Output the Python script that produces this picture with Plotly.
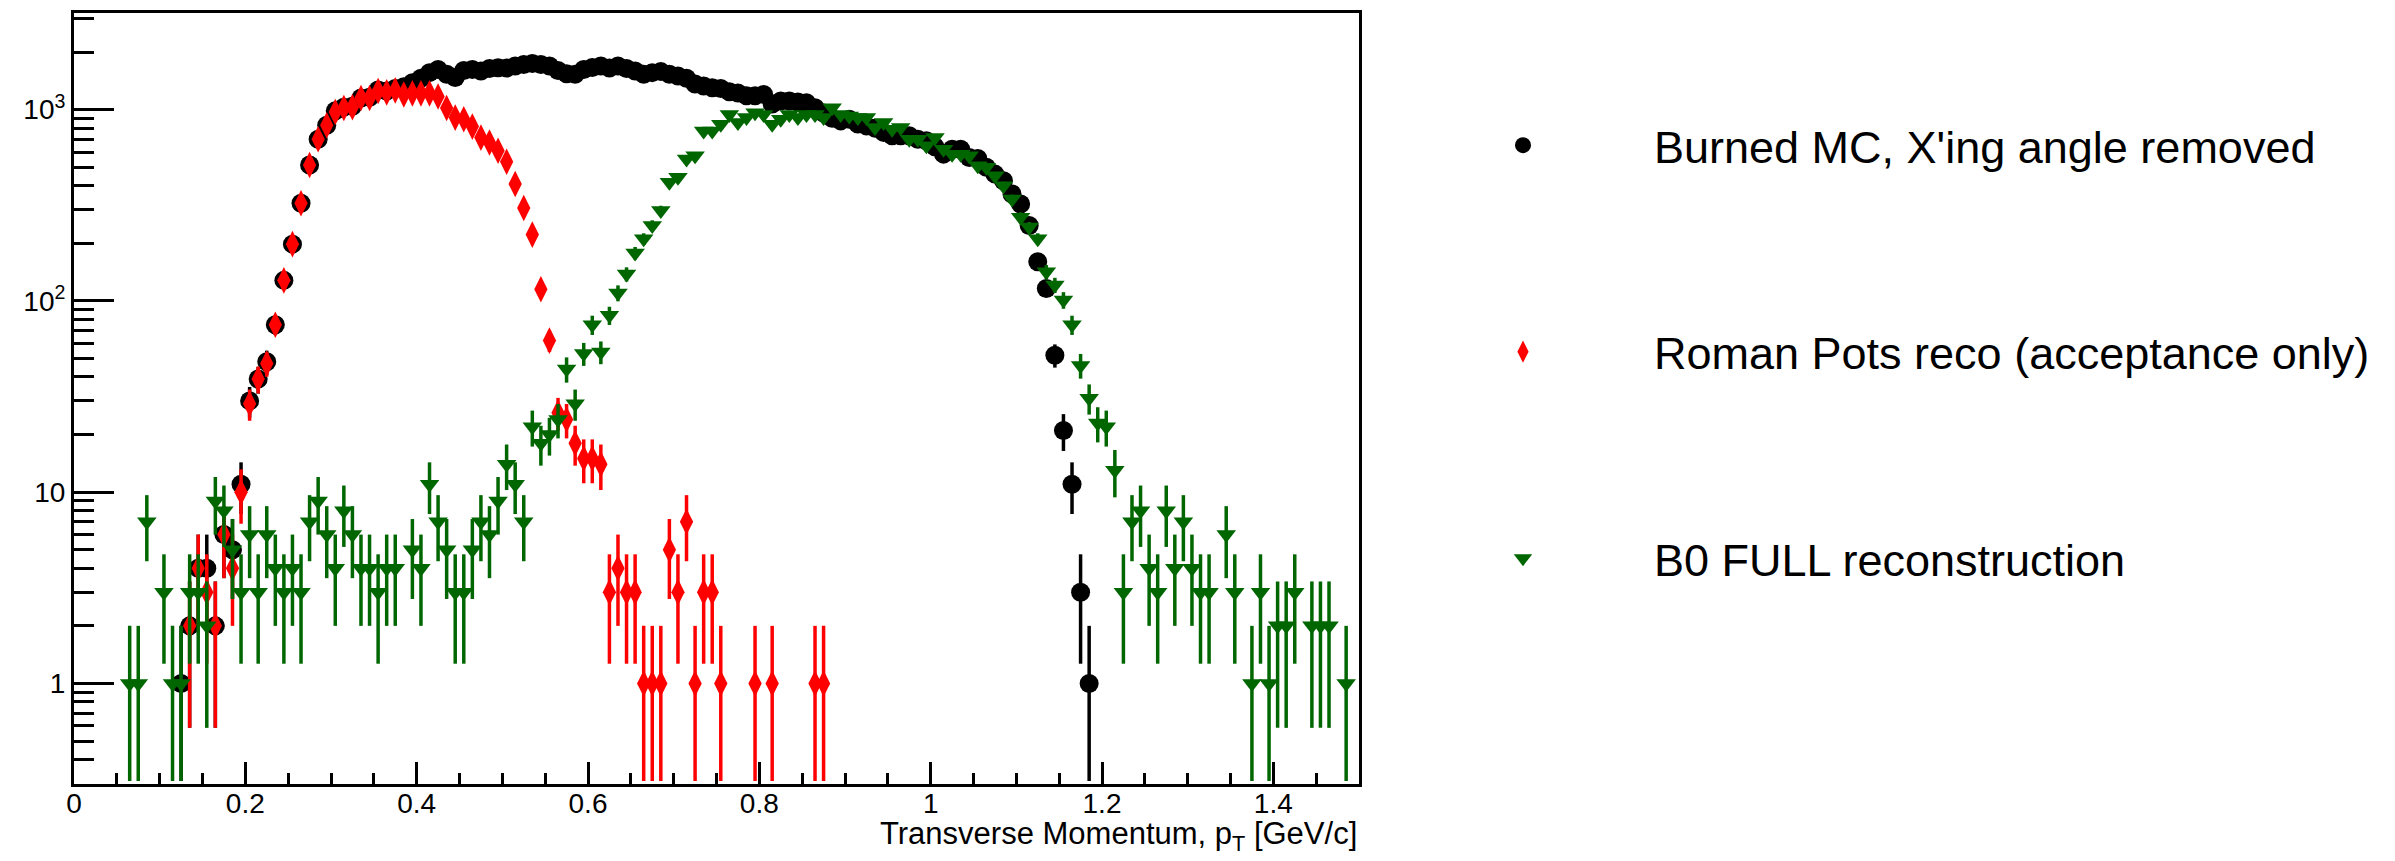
import numpy as np
import plotly.graph_objects as go

# ---------------- data (counts per 0.01 GeV/c bin) ----------------
burned_x = [0.125, 0.135, 0.145, 0.155, 0.165, 0.175, 0.185, 0.195, 0.205, 0.215,
            0.225, 0.235, 0.245, 0.255, 0.265, 0.275, 0.285, 0.295, 0.305, 0.315,
            0.325, 0.335, 0.345, 0.355, 0.365, 0.375, 0.385, 0.395, 0.405, 0.415,
            0.425, 0.435, 0.445, 0.455, 0.465, 0.475, 0.485, 0.495, 0.505, 0.515,
            0.525, 0.535, 0.545, 0.555, 0.565, 0.575, 0.585, 0.595, 0.605, 0.615,
            0.625, 0.635, 0.645, 0.655, 0.665, 0.675, 0.685, 0.695, 0.705, 0.715,
            0.725, 0.735, 0.745, 0.755, 0.765, 0.775, 0.785, 0.795, 0.805, 0.815,
            0.825, 0.835, 0.845, 0.855, 0.865, 0.875, 0.885, 0.895, 0.905, 0.915,
            0.925, 0.935, 0.945, 0.955, 0.965, 0.975, 0.985, 0.995, 1.005, 1.015,
            1.025, 1.035, 1.045, 1.055, 1.065, 1.075, 1.085, 1.095, 1.105, 1.115,
            1.125, 1.135, 1.145, 1.155, 1.165, 1.175, 1.185]
burned_y = [1, 2, 4, 4, 2, 6, 5, 11, 30, 39,
            48, 75, 128, 198, 324, 513, 700, 828, 985, 1030,
            1040, 1150, 1160, 1265, 1250, 1290, 1318, 1383, 1460, 1560,
            1620, 1530, 1470, 1600, 1620, 1590, 1640, 1655, 1650, 1690,
            1720, 1740, 1720, 1690, 1600, 1540, 1530, 1620, 1660, 1690,
            1650, 1690, 1640, 1590, 1530, 1560, 1580, 1530, 1500, 1460,
            1360, 1330, 1300, 1290, 1240, 1220, 1180, 1180, 1200, 1070,
            1110, 1109, 1095, 1087, 1024, 960, 900, 873, 890, 840,
            822, 800, 760, 730, 730, 730, 700, 687, 640, 585,
            621, 621, 562, 555, 499, 460, 425, 362, 321, 248,
            160, 116, 52, 21, 11, 3, 1]

rp_x = [0.135, 0.145, 0.155, 0.165, 0.175, 0.185, 0.195, 0.205, 0.215, 0.225,
        0.235, 0.245, 0.255, 0.265, 0.275, 0.285, 0.295, 0.305, 0.315, 0.325,
        0.335, 0.345, 0.355, 0.365, 0.375, 0.385, 0.395, 0.405, 0.415, 0.425,
        0.435, 0.445, 0.455, 0.465, 0.475, 0.485, 0.495, 0.505, 0.515, 0.525,
        0.535, 0.545, 0.555, 0.565, 0.575, 0.585, 0.595, 0.605, 0.615, 0.625,
        0.635, 0.645, 0.655, 0.665, 0.675, 0.685, 0.695, 0.705, 0.715, 0.725,
        0.735, 0.745, 0.755, 0.795, 0.815, 0.865, 0.875]
rp_y = [2, 4, 3, 2, 6, 4, 10, 29, 39, 47,
        75, 128, 198, 324, 513, 700, 828, 972, 1020, 1030,
        1150, 1150, 1250, 1230, 1260, 1200, 1216, 1216, 1216, 1170,
        1020, 908, 890, 815, 714, 673, 609, 534, 408, 306,
        222, 115, 62, 26, 24, 18, 15, 15, 14, 3,
        4, 3, 3, 1, 1, 1, 5, 3, 7, 1,
        3, 3, 1, 1, 1, 1, 1]

b0_x = [0.065, 0.075, 0.085, 0.105, 0.115, 0.125, 0.135, 0.145, 0.155, 0.165,
        0.175, 0.185, 0.195, 0.205, 0.215, 0.225, 0.235, 0.245, 0.255, 0.265,
        0.275, 0.285, 0.295, 0.305, 0.315, 0.325, 0.335, 0.345, 0.355, 0.365,
        0.375, 0.395, 0.405, 0.415, 0.425, 0.435, 0.445, 0.455, 0.465, 0.475,
        0.485, 0.495, 0.505, 0.515, 0.525, 0.535, 0.545, 0.555, 0.565, 0.575,
        0.585, 0.595, 0.605, 0.615, 0.625, 0.635, 0.645, 0.655, 0.665, 0.675,
        0.685, 0.695, 0.705, 0.715, 0.725, 0.735, 0.745, 0.755, 0.765, 0.775,
        0.785, 0.795, 0.805, 0.815, 0.825, 0.835, 0.845, 0.855, 0.865, 0.875,
        0.885, 0.895, 0.905, 0.915, 0.925, 0.935, 0.945, 0.955, 0.965, 0.975,
        0.985, 0.995, 1.005, 1.015, 1.025, 1.035, 1.045, 1.055, 1.065, 1.075,
        1.085, 1.095, 1.105, 1.115, 1.125, 1.135, 1.145, 1.155, 1.165, 1.175,
        1.185, 1.195, 1.205, 1.215, 1.225, 1.235, 1.245, 1.255, 1.265, 1.275,
        1.285, 1.295, 1.305, 1.315, 1.325, 1.345, 1.355, 1.375, 1.385, 1.395,
        1.405, 1.415, 1.425, 1.445, 1.455, 1.465, 1.485]
b0_y = [1, 1, 7, 3, 1, 1, 3, 3, 2, 9,
        8, 5, 3, 6, 3, 6, 4, 3, 4, 3,
        7, 9, 6, 4, 8, 6, 4, 4, 3, 4,
        4, 5, 4, 11, 7, 5, 3, 3, 5, 7,
        6, 9, 14, 11, 7, 22, 18, 20, 24, 44,
        29, 53, 75, 54, 84, 110, 138, 178, 211, 248,
        297, 417, 443, 551, 574, 774, 774, 838, 944, 855,
        908, 964, 944, 838, 891, 944, 908, 944, 944, 908,
        1024, 944, 925, 908, 908, 806, 855, 789, 806, 700,
        700, 647, 715, 621, 585, 585, 573, 509, 499, 451,
        400, 341, 274, 243, 211, 142, 121, 101, 75, 46,
        31, 23, 22, 13, 3, 7, 8, 4, 3, 8,
        4, 7, 4, 3, 3, 6, 3, 1, 3, 1,
        2, 2, 3, 2, 2, 2, 1]

series_names = ["Burned MC, X'ing angle removed",
                "Roman Pots reco (acceptance only)",
                "B0 FULL reconstruction"]

y_tick_vals = [1, 10, 100, 1000]
y_tick_text = ["1", "10", "10<sup>2</sup>", "10<sup>3</sup>"]
y_minor_vals = [m * 10.0 ** e for e in range(-1, 4) for m in range(2, 10)
                if 0.3 <= m * 10.0 ** e <= 3200]
x_title = "Transverse Momentum, p<sub>T</sub> [GeV/c]"

Y_MIN = 0.3
Y_LOG_RANGE = [np.log10(0.298), 3.505]


def poisson_err(vals):
    v = np.asarray(vals, dtype=float)
    up = np.sqrt(v)
    dn = np.minimum(np.sqrt(v), v - Y_MIN * 1.03)
    return up, dn


FONT = "Liberation Sans, Arial, Helvetica, sans-serif"

fig = go.Figure()

styles = [
    (burned_x, burned_y, "black", "circle", 19),
    (rp_x, rp_y, "#ff0000", "diamond-tall", 19),
    (b0_x, b0_y, "#006600", "triangle-down", 17),
]
for i, (xs, ys, col, sym, sz) in enumerate(styles):
    up, dn = poisson_err(ys)
    fig.add_trace(go.Scatter(
        x=xs, y=ys, mode="markers", name=series_names[i],
        legendgroup=f"g{i}",
        marker=dict(symbol=sym, size=sz, color=col, line=dict(width=0)),
        error_y=dict(type="data", array=up, arrayminus=dn, symmetric=False,
                     color=col, thickness=3.5, width=0),
    ))

fig.update_layout(
    width=2395, height=861,
    margin=dict(l=74, r=1036, t=10, b=77),
    paper_bgcolor="white", plot_bgcolor="white",
    font=dict(family=FONT, color="black", size=28),
    showlegend=True,
    legend=dict(
        x=(1392 - 74) / 1285, xanchor="left", y=0.875, yanchor="top",
        font=dict(size=45, family=FONT, color="black"),
        traceorder="grouped", tracegroupgap=145,
        itemsizing="trace", itemwidth=252,
        bgcolor="rgba(0,0,0,0)",
    ),
    xaxis=dict(
        range=[0, 1.5], showgrid=False, zeroline=False,
        showline=True, linecolor="black", linewidth=3, mirror=True,
        ticks="inside", ticklen=22, tickwidth=3, tickcolor="black",
        tick0=0, dtick=0.2, ticklabelstandoff=-8,
        tickfont=dict(size=28, family=FONT),
        minor=dict(ticks="inside", ticklen=11, tickwidth=3, tickcolor="black",
                   tick0=0, dtick=0.05, showgrid=False),
    ),
    yaxis=dict(
        type="log", range=Y_LOG_RANGE, showgrid=False, zeroline=False,
        showline=True, linecolor="black", linewidth=3, mirror=True,
        ticks="inside", ticklen=40, tickwidth=3, tickcolor="black",
        tickmode="array", tickvals=y_tick_vals, ticktext=y_tick_text,
        tickfont=dict(size=28, family=FONT),
        minor=dict(ticks="inside", ticklen=20, tickwidth=3, tickcolor="black",
                   tickmode="array", tickvals=y_minor_vals, showgrid=False),
    ),
    annotations=[dict(
        text=x_title, xref="paper", yref="paper", x=1, y=0,
        xanchor="right", yanchor="middle", yshift=-52, showarrow=False,
        font=dict(size=31, family=FONT, color="black"),
    )],
)

fig.write_html(
    "out.html",
    config={"displayModeBar": False},
    post_script="document.body.style.margin='0px';document.body.style.padding='0px';",
)
